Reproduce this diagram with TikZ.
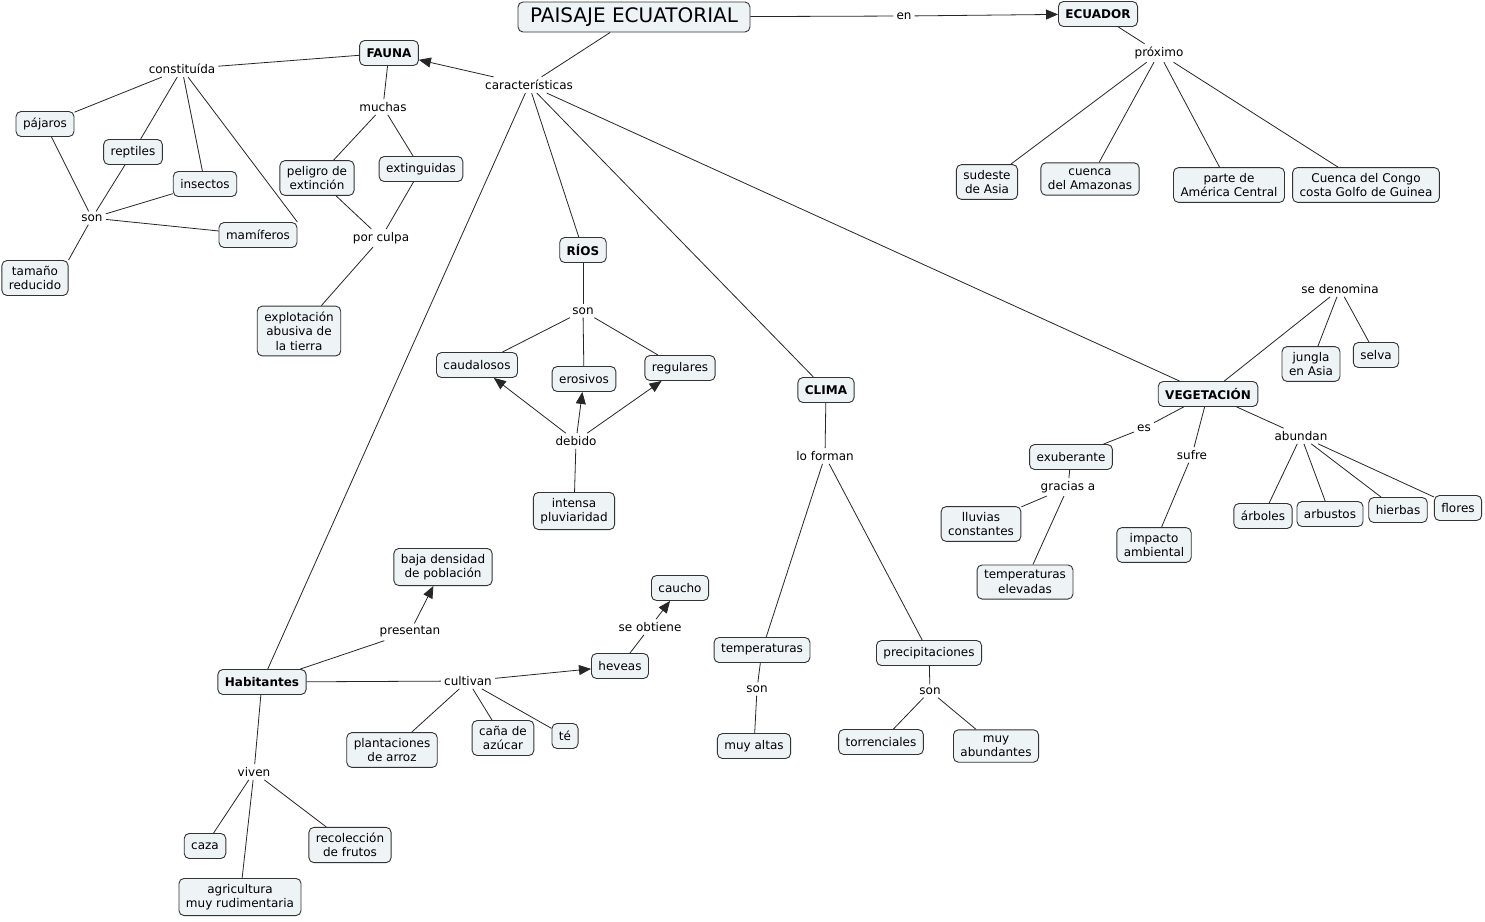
\documentclass[tikz,border=0pt]{standalone}
\usepackage{fontspec}
\setmainfont{DejaVu Sans}
\usetikzlibrary{arrows.meta}
\definecolor{boxfill}{HTML}{EEF3F6}
\definecolor{boxline}{HTML}{333333}
\tikzset{
 box/.style={draw=boxline, fill=boxfill, rounded corners=5pt, line width=0.9pt, align=center, font=\fontsize{12}{14.5}\selectfont, inner xsep=7pt, inner ysep=5.5pt, minimum height=25pt},
 bbox/.style={box, font=\fontsize{12}{14.5}\selectfont\bfseries},
 lbl/.style={inner sep=3pt, font=\fontsize{12}{14.5}\selectfont},
 con/.style={draw=black!85, line width=0.8pt},
 arr/.style={con, -{Triangle[length=12pt,width=10pt]}},
}
\begin{document}
\begin{tikzpicture}[x=1pt,y=-1pt]
\useasboundingbox[fill=white] (0,0) rectangle (1485,921);
% main
\node[box, font=\fontsize{20}{24}\selectfont, inner xsep=12pt, minimum height=30pt] (title) at (634,17) {PAISAJE ECUATORIAL};
\node[bbox] (ecuador) at (1098,14) {ECUADOR};
\node[lbl] (en) at (904,16) {en};
\node[lbl] (proximo) at (1159,53) {próximo};
\node[box] (sudeste) at (987,182) {sudeste\\de Asia};
\node[box] (amazonas) at (1090,179) {cuenca\\del Amazonas};
\node[box] (america) at (1229,185) {parte de\\América Central};
\node[box] (congo) at (1366,185) {Cuenca del Congo\\costa Golfo de Guinea};
\node[lbl] (caract) at (529,85) {características};
% fauna
\node[bbox] (fauna) at (389,53) {FAUNA};
\node[lbl] (constit) at (182,69) {constituída};
\node[box] (pajaros) at (45,124) {pájaros};
\node[box] (reptiles) at (133,152) {reptiles};
\node[box] (insectos) at (205,184) {insectos};
\node[box] (mamiferos) at (258,235) {mamíferos};
\node[lbl] (sonf) at (92,218) {son};
\node[box] (tamano) at (35,278) {tamaño\\reducido};
\node[lbl] (muchas) at (383,107) {muchas};
\node[box] (peligro) at (317,178) {peligro de\\extinción};
\node[box] (extinguidas) at (421,169) {extinguidas};
\node[lbl] (porculpa) at (381,238) {por culpa};
\node[box] (explot) at (299,331) {explotación\\abusiva de\\la tierra};
% rios
\node[bbox] (rios) at (583,250) {RÍOS};
\node[lbl] (sonr) at (583,311) {son};
\node[box] (caudalosos) at (477,365) {caudalosos};
\node[box] (erosivos) at (584,379) {erosivos};
\node[box] (regulares) at (680,368) {regulares};
\node[lbl] (debido) at (576,441) {debido};
\node[box] (intensa) at (574,511) {intensa\\pluviaridad};
% clima
\node[bbox] (clima) at (826,390) {CLIMA};
\node[lbl] (loforman) at (825,456) {lo forman};
\node[box] (temps) at (762,650) {temperaturas};
\node[box] (precip) at (929,653) {precipitaciones};
\node[lbl] (sont) at (757,689) {son};
\node[box] (muyaltas) at (754,746) {muy altas};
\node[lbl] (sonp) at (930,691) {son};
\node[box] (torrenciales) at (881,742) {torrenciales};
\node[box] (muyabund) at (996,746) {muy\\abundantes};
% vegetacion
\node[bbox] (veg) at (1208,394) {VEGETACIÓN};
\node[lbl] (sedenomina) at (1340,289) {se denomina};
\node[box] (jungla) at (1311,364) {jungla\\en Asia};
\node[box] (selva) at (1376,355) {selva};
\node[lbl] (es) at (1144,428) {es};
\node[box] (exuberante) at (1071,457) {exuberante};
\node[lbl] (gracias) at (1068,487) {gracias a};
\node[box] (lluvias) at (981,524) {lluvias\\constantes};
\node[box] (tempelev) at (1025,582) {temperaturas\\elevadas};
\node[lbl] (sufre) at (1192,455) {sufre};
\node[box] (impacto) at (1154,545) {impacto\\ambiental};
\node[lbl] (abundan) at (1301,436) {abundan};
\node[box] (arboles) at (1263,516) {árboles};
\node[box] (arbustos) at (1330,514) {arbustos};
\node[box] (hierbas) at (1398,510) {hierbas};
\node[box] (flores) at (1458,508) {flores};
% habitantes
\node[bbox] (habit) at (262,682) {Habitantes};
\node[lbl] (presentan) at (410,632) {presentan};
\node[box] (baja) at (443,567) {baja densidad\\de población};
\node[lbl] (cultivan) at (468,681) {cultivan};
\node[box] (heveas) at (620,666) {heveas};
\node[lbl] (seobtiene) at (650,627) {se obtiene};
\node[box] (caucho) at (680,588) {caucho};
\node[box] (arroz) at (392,750) {plantaciones\\de arroz};
\node[box] (cana) at (503,738) {caña de\\azúcar};
\node[box] (te) at (565,736) {té};
\node[lbl] (viven) at (254,772) {viven};
\node[box] (caza) at (205,846) {caza};
\node[box] (agric) at (240,897) {agricultura\\muy rudimentaria};
\node[box] (recol) at (350,845) {recolección\\de frutos};
% connectors
\draw[con] (title) -- (en);
\draw[arr] (en) -- (ecuador);
\draw[con] (ecuador) -- (proximo);
\foreach \n in {sudeste,amazonas,america,congo} \draw[con] (proximo) -- (\n);
\draw[con] (title) -- (caract);
\draw[arr] (caract) -- (fauna);
\draw[con] (fauna) -- (constit);
\foreach \n in {pajaros,reptiles,insectos} \draw[con] (constit) -- (\n);
\draw[con] (constit) -- (mamiferos.north east);
\foreach \n in {pajaros,reptiles,insectos,mamiferos} \draw[con] (sonf) -- (\n);
\draw[con] (sonf) -- (tamano.north east);
\draw[con] (fauna) -- (muchas);
\draw[con] (muchas) -- (peligro);
\draw[con] (muchas) -- (extinguidas);
\draw[con] (peligro) -- (porculpa);
\draw[con] (extinguidas) -- (porculpa);
\draw[con] (porculpa) -- (explot);
\draw[con] (caract) -- (rios);
\draw[con] (rios) -- (sonr);
\foreach \n in {caudalosos,erosivos,regulares} \draw[con] (sonr) -- (\n);
\foreach \n in {caudalosos,erosivos,regulares} \draw[arr] (debido) -- (\n);
\draw[con] (intensa) -- (debido);
\draw[con] (caract) -- (clima);
\draw[con] (clima) -- (loforman);
\draw[con] (loforman) -- (temps);
\draw[con] (loforman) -- (precip);
\draw[con] (temps) -- (sont);
\draw[con] (sont) -- (muyaltas);
\draw[con] (precip) -- (sonp);
\draw[con] (sonp) -- (torrenciales);
\draw[con] (sonp) -- (muyabund);
\draw[con] (caract) -- (veg);
\draw[con] (veg) -- (sedenomina);
\draw[con] (sedenomina) -- (jungla);
\draw[con] (sedenomina) -- (selva);
\draw[con] (veg) -- (es);
\draw[con] (es) -- (exuberante);
\draw[con] (exuberante) -- (gracias);
\draw[con] (gracias) -- (lluvias);
\draw[con] (gracias) -- (tempelev);
\draw[con] (veg) -- (sufre);
\draw[con] (sufre) -- (impacto);
\draw[con] (veg) -- (abundan);
\foreach \n in {arboles,arbustos,hierbas,flores} \draw[con] (abundan) -- (\n);
\draw[con] (caract) -- (habit);
\draw[con] (habit) -- (presentan);
\draw[arr] (presentan) -- (baja);
\draw[con] (habit) -- (cultivan);
\draw[arr] (cultivan) -- (heveas);
\draw[con] (heveas) -- (seobtiene);
\draw[arr] (seobtiene) -- (caucho);
\foreach \n in {arroz,cana,te} \draw[con] (cultivan) -- (\n);
\draw[con] (habit) -- (viven);
\foreach \n in {caza,agric,recol} \draw[con] (viven) -- (\n);
\end{tikzpicture}
\end{document}
